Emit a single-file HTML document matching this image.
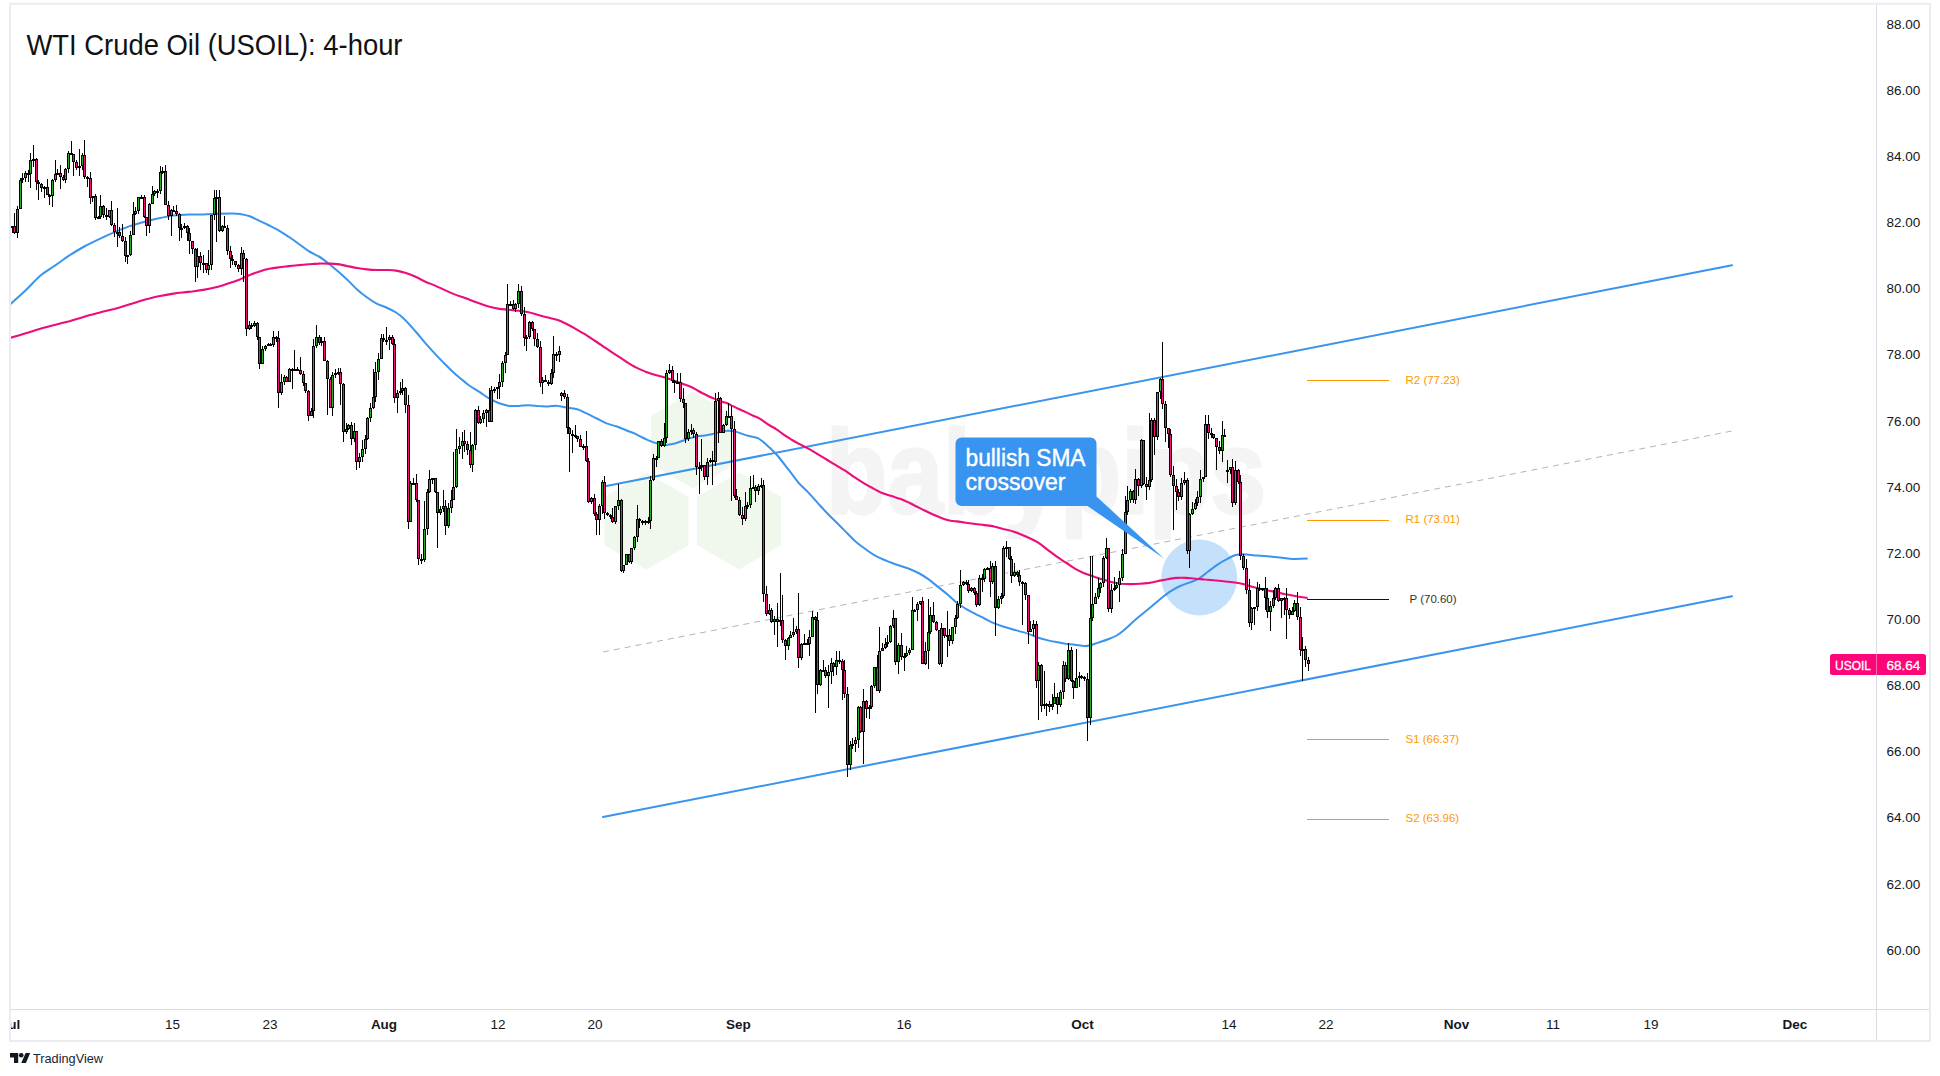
<!DOCTYPE html>
<html><head><meta charset="utf-8"><title>WTI Crude Oil (USOIL): 4-hour</title>
<style>
html,body{margin:0;padding:0;background:#fff;}
body{width:1940px;height:1076px;overflow:hidden;font-family:"Liberation Sans",sans-serif;}
svg{display:block;font-family:"Liberation Sans",sans-serif;}
</style></head><body>
<svg width="1940" height="1076" viewBox="0 0 1940 1076">
<rect width="1940" height="1076" fill="#fff"/>
<!-- frame -->
<rect x="10" y="3.8" width="1920" height="1037.2" fill="none" stroke="#ebecf2" stroke-width="2"/>
<g shape-rendering="crispEdges" fill="#dadce3">
<rect x="1876" y="5" width="1" height="1035"/>
<rect x="11" y="1009" width="1918" height="1"/>
</g>
<defs><clipPath id="taxis"><rect x="11" y="1010" width="1865" height="30"/></clipPath><clipPath id="pane"><rect x="11" y="5" width="1865" height="1004"/></clipPath></defs>
<g clip-path="url(#pane)">
<!-- watermark -->
<g fill="#f0f8ee">
<path d="M693.0 391.5L735.0 415.8L735.0 464.2L693.0 488.5L651.0 464.2L651.0 415.8z"/><path d="M646.5 472.5L688.5 496.8L688.5 545.2L646.5 569.5L604.5 545.2L604.5 496.8z"/><path d="M739.0 472.5L781.0 496.8L781.0 545.2L739.0 569.5L697.0 545.2L697.0 496.8z"/>
</g>
<text x="826" y="513" font-size="118" font-weight="bold" fill="#f4f4f4" stroke="#f4f4f4" stroke-width="3" stroke-linejoin="round" textLength="440" lengthAdjust="spacingAndGlyphs">babypips</text>
<!-- channel -->
<g stroke="#3a94ee" stroke-width="2" fill="none" stroke-linecap="round">
<line x1="605" y1="486.3" x2="1732" y2="265.3"/>
<line x1="603" y1="817" x2="1732" y2="596.3"/>
</g>
<line x1="603" y1="652" x2="1732" y2="431" stroke="#b4b4b4" stroke-width="1" stroke-dasharray="6 5"/>
<!-- circle -->
<circle cx="1199.3" cy="577.5" r="38" fill="#2b8ff0" fill-opacity="0.28"/>
<!-- SMAs -->
<path d="M10.0 304.5C12.5 302.3 19.9 295.8 24.9 291.1C29.8 286.4 34.8 280.5 39.7 276.2C44.7 272.0 49.7 269.3 54.6 265.8C59.6 262.4 64.5 258.6 69.5 255.4C74.4 252.2 79.4 249.2 84.3 246.5C89.3 243.8 94.3 241.4 99.2 239.1C104.2 236.7 109.1 234.5 114.1 232.4C119.0 230.3 124.0 228.2 129.0 226.4C133.9 224.7 138.9 223.3 143.8 222.0C148.8 220.6 155.0 219.1 158.7 218.3C162.4 217.4 163.7 217.2 166.1 216.8C168.6 216.3 169.9 215.9 173.6 215.6C177.3 215.2 183.5 214.7 188.4 214.5C193.4 214.4 198.4 214.7 203.3 214.5C208.3 214.4 213.2 214.0 218.2 213.8C223.1 213.6 229.4 213.5 233.0 213.5C236.7 213.5 237.2 213.5 240.0 214.0C242.8 214.5 246.5 215.2 249.8 216.3C253.0 217.5 256.3 219.3 259.5 220.8C262.8 222.4 266.0 223.9 269.3 225.5C272.5 227.1 275.8 228.7 279.0 230.6C282.3 232.5 285.5 234.7 288.8 236.8C292.0 239.0 295.3 241.3 298.5 243.7C301.8 246.0 305.0 248.8 308.3 250.9C311.5 252.9 315.4 254.5 318.0 256.0C320.7 257.4 322.0 258.4 323.9 259.9C325.9 261.3 327.5 262.7 329.8 264.5C332.0 266.4 334.6 268.4 337.6 271.0C340.5 273.5 344.1 276.7 347.3 279.8C350.6 282.8 353.8 286.6 357.1 289.5C360.3 292.4 363.6 295.0 366.8 297.3C370.1 299.7 373.3 301.9 376.6 303.6C379.8 305.3 383.1 306.0 386.3 307.5C389.6 309.0 393.2 310.7 396.1 312.5C399.0 314.4 400.7 315.6 403.9 318.8C407.2 321.9 412.0 327.4 415.6 331.5C419.2 335.5 422.1 339.4 425.4 343.2C428.6 346.9 431.9 350.4 435.1 353.9C438.4 357.4 441.6 360.8 444.9 364.0C448.1 367.3 451.4 370.5 454.6 373.4C457.9 376.3 461.8 379.5 464.4 381.6C467.0 383.7 467.4 384.2 470.0 386.0C472.6 387.7 476.5 390.1 479.8 392.2C483.0 394.3 486.3 396.8 489.5 398.6C492.8 400.5 496.0 402.1 499.3 403.3C502.5 404.5 505.8 405.4 509.0 405.9C512.3 406.3 515.5 406.0 518.8 405.9C522.0 405.8 525.3 405.3 528.5 405.3C531.8 405.3 535.0 405.7 538.3 405.9C541.5 406.0 544.8 406.4 548.0 406.4C551.3 406.4 554.6 405.6 557.8 405.9C561.1 406.1 564.3 407.3 567.6 407.8C570.8 408.4 574.1 408.2 577.3 409.2C580.6 410.1 583.8 412.1 587.1 413.7C590.3 415.2 593.6 416.9 596.8 418.5C600.1 420.2 603.3 422.1 606.6 423.4C609.8 424.7 613.1 425.2 616.3 426.3C619.6 427.5 622.8 428.9 626.1 430.2C629.3 431.5 632.6 432.7 635.9 434.1C639.1 435.6 642.4 437.6 645.6 439.0C648.9 440.5 652.1 442.0 655.4 442.9C658.6 443.9 661.9 444.8 665.1 444.9C668.4 445.0 671.6 444.3 674.9 443.5C678.1 442.7 682.1 440.9 684.6 440.0C687.2 439.1 688.2 438.6 690.0 438.1C691.8 437.5 693.6 437.1 695.6 436.7C697.6 436.3 699.9 436.1 702.1 435.8C704.3 435.5 706.7 435.2 708.6 434.8C710.4 434.5 711.7 434.3 713.2 433.9C714.8 433.5 716.3 433.0 717.9 432.5C719.4 432.1 721.0 431.4 722.5 431.1C724.1 430.8 725.6 430.7 727.2 430.7C728.7 430.6 730.3 430.7 731.8 430.9C733.4 431.1 734.8 431.4 736.5 431.9C738.2 432.4 740.2 433.3 742.1 433.9C743.9 434.5 745.8 435.1 747.6 435.6C749.5 436.1 751.5 436.5 753.2 436.9C754.9 437.3 756.3 437.4 757.9 438.1C759.4 438.8 761.0 440.1 762.5 441.3C764.1 442.6 765.6 444.1 767.2 445.5C768.7 446.9 770.0 448.0 771.8 449.7C773.6 451.5 774.9 452.5 777.8 456.0C780.8 459.5 785.8 466.2 789.3 470.7C792.8 475.1 795.5 479.2 798.6 482.8C801.7 486.3 804.8 488.8 807.9 492.1C811.0 495.3 814.1 498.9 817.2 502.3C820.3 505.7 823.4 509.3 826.5 512.5C829.6 515.8 832.7 518.7 835.8 521.8C838.9 524.9 842.0 528.0 845.1 531.1C848.2 534.2 851.3 537.6 854.4 540.4C857.5 543.2 860.6 545.5 863.7 547.8C866.8 550.2 869.9 552.5 873.0 554.3C876.1 556.2 879.2 557.6 882.2 559.0C885.3 560.4 888.4 561.5 891.5 562.7C894.6 563.9 897.7 565.0 900.8 566.0C903.9 567.1 907.0 568.0 910.1 569.2C913.2 570.4 916.3 571.8 919.4 573.5C922.5 575.2 925.6 577.2 928.7 579.4C931.8 581.7 934.9 584.4 938.0 586.9C941.1 589.3 944.2 591.7 947.3 594.3C950.4 596.9 953.5 600.3 956.6 602.7C959.7 605.1 962.8 606.9 965.9 608.8C969.0 610.7 972.1 612.2 975.2 613.8C978.3 615.4 981.4 616.9 984.5 618.5C987.6 620.0 990.7 621.8 993.8 623.1C996.9 624.5 999.7 625.4 1003.1 626.5C1006.5 627.6 1009.8 628.5 1014.0 629.7C1018.3 630.9 1024.6 632.6 1028.6 633.9C1032.5 635.2 1034.7 636.4 1037.8 637.5C1040.9 638.5 1044.0 639.3 1047.1 640.1C1050.2 640.9 1053.3 641.5 1056.4 642.1C1059.5 642.7 1062.6 643.2 1065.7 643.7C1068.8 644.1 1071.9 644.3 1074.9 644.7C1078.0 645.1 1081.6 645.9 1084.2 646.0C1086.8 646.1 1088.1 645.8 1090.4 645.2C1092.7 644.6 1095.3 643.5 1098.1 642.6C1101.0 641.6 1104.3 640.7 1107.4 639.5C1110.5 638.3 1113.9 637.1 1116.7 635.5C1119.5 633.8 1121.6 632.1 1124.4 629.7C1127.3 627.4 1130.6 623.9 1133.7 621.2C1136.8 618.5 1139.9 616.1 1143.0 613.5C1146.1 610.9 1149.2 608.3 1152.3 605.8C1155.4 603.2 1158.4 600.5 1161.5 598.0C1164.6 595.6 1167.7 593.1 1170.8 591.1C1173.9 589.1 1177.0 587.4 1180.1 586.0C1183.2 584.6 1186.3 583.8 1189.4 582.6C1192.5 581.4 1195.6 580.5 1198.7 578.7C1201.7 576.9 1204.8 574.1 1207.9 571.8C1211.0 569.4 1214.1 566.9 1217.2 564.8C1220.3 562.7 1223.6 560.9 1226.5 559.4C1229.3 557.8 1231.9 556.4 1234.2 555.5C1236.5 554.7 1238.3 554.5 1240.4 554.3C1242.5 554.1 1243.8 554.2 1246.6 554.4C1249.4 554.6 1253.5 555.2 1257.4 555.5C1261.3 555.9 1265.7 556.2 1269.8 556.6C1273.9 557.0 1278.3 557.4 1282.2 557.8C1286.0 558.2 1288.7 558.8 1293.0 558.9C1297.2 559.0 1305.2 558.7 1307.7 558.6" fill="none" stroke="#3a94ee" stroke-width="2" stroke-linejoin="round"/>
<path d="M10.0 338.0C12.5 337.2 19.9 335.0 24.9 333.5C29.8 332.0 34.8 330.4 39.7 329.0C44.7 327.6 49.7 326.3 54.6 325.0C59.6 323.7 64.5 322.5 69.5 321.2C74.4 319.8 79.4 318.1 84.3 316.7C89.3 315.3 94.3 314.0 99.2 312.7C104.2 311.4 109.1 310.3 114.1 309.0C119.0 307.6 124.0 306.0 129.0 304.5C133.9 303.0 138.9 301.4 143.8 300.0C148.8 298.7 153.7 297.4 158.7 296.3C163.7 295.3 168.6 294.4 173.6 293.6C178.5 292.9 183.5 292.5 188.4 291.9C193.4 291.2 198.4 290.8 203.3 289.9C208.3 289.1 213.2 288.0 218.2 286.7C223.1 285.3 229.4 283.1 233.0 281.9C236.7 280.7 237.2 280.5 240.0 279.4C242.8 278.2 246.5 276.2 249.8 274.9C253.0 273.5 256.3 272.4 259.5 271.4C262.8 270.4 266.0 269.5 269.3 268.8C272.5 268.1 275.8 267.7 279.0 267.3C282.3 266.8 285.5 266.5 288.8 266.1C292.0 265.7 295.3 265.4 298.5 265.1C301.8 264.8 305.0 264.6 308.3 264.3C311.5 264.1 314.8 263.7 318.0 263.6C321.3 263.4 324.6 263.5 327.8 263.6C331.1 263.7 334.3 263.7 337.6 264.1C340.8 264.6 344.1 265.4 347.3 266.1C350.6 266.7 353.8 267.5 357.1 268.0C360.3 268.6 363.6 269.1 366.8 269.4C370.1 269.7 373.3 269.9 376.6 270.0C379.8 270.1 383.1 269.9 386.3 270.0C389.6 270.1 392.8 270.1 396.1 270.6C399.3 271.1 402.6 271.9 405.9 272.9C409.1 274.0 412.4 275.4 415.6 276.8C418.9 278.3 422.1 280.2 425.4 281.7C428.6 283.2 431.9 284.2 435.1 285.6C438.4 287.0 441.6 288.6 444.9 290.1C448.1 291.6 451.4 293.1 454.6 294.4C457.9 295.7 461.8 296.8 464.4 297.7C467.0 298.6 467.4 299.0 470.0 299.9C472.6 300.9 476.5 302.3 479.8 303.4C483.0 304.6 486.3 305.8 489.5 306.7C492.8 307.6 496.0 308.4 499.3 308.9C502.5 309.4 505.8 309.3 509.0 309.7C512.3 310.0 515.5 310.4 518.8 310.8C522.0 311.3 525.3 311.5 528.5 312.2C531.8 312.9 535.0 314.2 538.3 315.1C541.5 316.0 544.8 316.7 548.0 317.5C551.3 318.3 554.6 318.8 557.8 320.0C561.1 321.2 564.3 322.9 567.6 324.5C570.8 326.1 574.1 327.9 577.3 329.8C580.6 331.6 583.8 333.6 587.1 335.6C590.3 337.7 593.6 339.9 596.8 342.0C600.1 344.2 603.3 346.5 606.6 348.7C609.8 350.9 613.1 353.0 616.3 355.1C619.6 357.3 622.8 359.5 626.1 361.6C629.3 363.6 632.6 365.7 635.9 367.4C639.1 369.1 642.4 370.4 645.6 371.7C648.9 373.0 652.1 374.0 655.4 375.0C658.6 376.0 661.9 376.6 665.1 377.6C668.4 378.6 671.6 379.9 674.9 381.1C678.1 382.2 682.1 383.5 684.6 384.4C687.2 385.3 688.2 385.7 690.0 386.5C691.8 387.3 693.6 388.2 695.6 389.3C697.6 390.4 699.9 391.9 702.1 393.0C704.3 394.2 706.6 395.3 708.6 396.3C710.6 397.2 712.3 397.8 714.2 398.6C716.0 399.4 717.6 400.1 719.7 400.9C721.9 401.7 725.2 402.5 727.2 403.2C729.2 404.0 730.0 404.6 731.8 405.6C733.7 406.5 736.0 407.7 738.3 408.8C740.7 409.9 743.3 410.9 745.8 412.1C748.3 413.2 751.0 414.8 753.2 415.8C755.4 416.8 756.9 417.1 758.8 418.1C760.6 419.1 762.5 420.6 764.4 421.8C766.2 423.1 767.9 424.3 769.9 425.5C772.0 426.8 774.4 427.9 776.4 429.3C778.5 430.6 780.2 432.1 782.0 433.4C783.9 434.8 785.9 436.1 787.6 437.2C789.3 438.3 790.3 438.9 792.1 440.0C793.9 441.1 796.0 442.3 798.6 443.7C801.2 445.1 804.8 446.7 807.9 448.4C811.0 450.1 814.1 452.1 817.2 453.9C820.3 455.8 823.4 457.7 826.5 459.5C829.6 461.4 832.7 463.2 835.8 465.1C838.9 467.0 842.0 468.7 845.1 470.7C848.2 472.7 851.3 475.1 854.4 477.2C857.5 479.3 860.6 481.3 863.7 483.1C866.8 485.0 869.9 486.7 873.0 488.3C876.1 490.0 879.2 491.7 882.2 493.0C885.3 494.3 888.4 495.1 891.5 496.1C894.6 497.2 897.7 497.9 900.8 499.1C903.9 500.3 907.0 501.8 910.1 503.2C913.2 504.7 916.3 506.3 919.4 507.9C922.5 509.4 925.6 511.0 928.7 512.5C931.8 514.0 934.9 515.4 938.0 516.6C941.1 517.8 944.2 519.1 947.3 519.9C950.4 520.7 953.5 521.0 956.6 521.4C959.7 521.9 962.8 522.3 965.9 522.7C969.0 523.2 972.1 523.6 975.2 524.0C978.3 524.4 981.4 524.7 984.5 525.1C987.6 525.5 990.7 525.8 993.8 526.4C996.9 527.1 999.7 528.0 1003.1 528.9C1006.5 529.7 1009.8 530.2 1014.0 531.7C1018.3 533.2 1024.6 536.0 1028.6 537.7C1032.5 539.5 1034.7 540.4 1037.8 542.4C1040.9 544.3 1044.0 547.0 1047.1 549.3C1050.2 551.6 1053.3 554.1 1056.4 556.3C1059.5 558.5 1062.6 560.4 1065.7 562.5C1068.8 564.5 1071.9 566.9 1074.9 568.7C1078.0 570.5 1081.1 572.0 1084.2 573.3C1087.3 574.6 1090.4 575.4 1093.5 576.4C1096.6 577.4 1099.7 578.5 1102.8 579.5C1105.9 580.5 1109.0 581.6 1112.1 582.3C1115.1 583.0 1118.2 583.3 1121.3 583.7C1124.4 584.0 1127.5 584.1 1130.6 584.1C1133.7 584.1 1136.8 584.0 1139.9 583.8C1143.0 583.6 1146.1 583.3 1149.2 582.9C1152.3 582.4 1155.4 581.6 1158.4 581.0C1161.5 580.4 1164.6 579.7 1167.7 579.2C1170.8 578.7 1173.9 578.1 1177.0 577.9C1180.1 577.7 1183.2 577.8 1186.3 577.9C1189.4 578.1 1192.5 578.5 1195.6 578.7C1198.7 579.0 1201.7 579.2 1204.8 579.5C1207.9 579.7 1211.0 579.9 1214.1 580.3C1217.2 580.6 1220.3 581.0 1223.4 581.3C1226.5 581.7 1229.6 581.9 1232.7 582.3C1235.8 582.7 1238.9 583.1 1241.9 583.8C1245.0 584.5 1248.1 585.6 1251.2 586.4C1254.3 587.3 1256.9 587.9 1260.5 588.8C1264.1 589.6 1268.7 590.6 1272.9 591.5C1277.0 592.4 1281.1 593.3 1285.2 594.2C1289.4 595.0 1293.9 595.8 1297.6 596.5C1301.4 597.1 1306.0 597.8 1307.7 598.0" fill="none" stroke="#ec0d78" stroke-width="2.1" stroke-linejoin="round"/>
<g shape-rendering="crispEdges"><path fill="#000" d="M12 226h1V233h-1zM14 213h1V234h-1zM17 206h1V238h-1zM20 178h1V209h-1zM22 173h1V183h-1zM25 171h1V182h-1zM28 170h1V182h-1zM30 153h1V188h-1zM33 145h1V167h-1zM36 158h1V190h-1zM38 180h1V200h-1zM41 183h1V192h-1zM44 186h1V198h-1zM47 179h1V195h-1zM49 194h1V205h-1zM52 179h1V207h-1zM55 160h1V182h-1zM57 169h1V174h-1zM60 165h1V189h-1zM63 175h1V181h-1zM65 168h1V183h-1zM68 151h1V173h-1zM71 141h1V155h-1zM73 154h1V176h-1zM76 160h1V170h-1zM79 149h1V176h-1zM82 153h1V170h-1zM84 140h1V179h-1zM87 176h1V187h-1zM90 172h1V204h-1zM92 196h1V202h-1zM95 194h1V220h-1zM98 216h1V219h-1zM100 195h1V219h-1zM103 205h1V218h-1zM106 208h1V220h-1zM109 210h1V218h-1zM111 201h1V226h-1zM114 223h1V237h-1zM117 208h1V247h-1zM119 227h1V238h-1zM122 224h1V242h-1zM125 237h1V262h-1zM127 255h1V264h-1zM130 231h1V256h-1zM133 202h1V235h-1zM135 207h1V215h-1zM138 197h1V214h-1zM141 195h1V198h-1zM144 195h1V218h-1zM146 217h1V236h-1zM149 203h1V233h-1zM152 186h1V204h-1zM154 190h1V196h-1zM157 189h1V198h-1zM160 166h1V194h-1zM162 167h1V174h-1zM165 165h1V205h-1zM168 201h1V220h-1zM171 209h1V236h-1zM173 206h1V212h-1zM176 205h1V216h-1zM179 213h1V241h-1zM181 224h1V238h-1zM184 223h1V229h-1zM187 225h1V241h-1zM189 228h1V254h-1zM192 241h1V254h-1zM195 248h1V282h-1zM197 248h1V278h-1zM200 252h1V270h-1zM203 255h1V273h-1zM206 263h1V273h-1zM208 250h1V275h-1zM211 215h1V270h-1zM214 190h1V220h-1zM216 190h1V242h-1zM219 190h1V232h-1zM222 225h1V232h-1zM224 216h1V228h-1zM227 225h1V255h-1zM230 246h1V268h-1zM232 255h1V265h-1zM235 261h1V267h-1zM238 264h1V272h-1zM241 247h1V275h-1zM243 250h1V282h-1zM246 258h1V336h-1zM249 321h1V330h-1zM251 323h1V329h-1zM254 321h1V327h-1zM257 322h1V340h-1zM259 337h1V369h-1zM262 346h1V364h-1zM265 345h1V351h-1zM268 343h1V346h-1zM270 343h1V346h-1zM273 331h1V347h-1zM276 336h1V342h-1zM278 331h1V408h-1zM281 374h1V395h-1zM284 375h1V385h-1zM286 376h1V382h-1zM289 368h1V382h-1zM292 368h1V389h-1zM294 350h1V370h-1zM297 367h1V370h-1zM300 357h1V375h-1zM303 371h1V386h-1zM305 383h1V393h-1zM308 390h1V421h-1zM311 408h1V416h-1zM313 339h1V418h-1zM316 325h1V348h-1zM319 335h1V345h-1zM321 337h1V346h-1zM324 337h1V361h-1zM327 360h1V415h-1zM330 377h1V408h-1zM332 372h1V416h-1zM335 369h1V378h-1zM338 368h1V375h-1zM340 368h1V405h-1zM343 383h1V442h-1zM346 423h1V434h-1zM348 424h1V430h-1zM351 422h1V445h-1zM354 423h1V442h-1zM356 431h1V470h-1zM359 453h1V468h-1zM362 440h1V462h-1zM365 435h1V454h-1zM367 417h1V440h-1zM370 403h1V422h-1zM373 369h1V409h-1zM375 362h1V402h-1zM378 353h1V380h-1zM381 334h1V359h-1zM383 334h1V342h-1zM386 327h1V345h-1zM389 335h1V350h-1zM392 335h1V345h-1zM394 339h1V403h-1zM397 390h1V413h-1zM400 382h1V395h-1zM402 379h1V395h-1zM405 387h1V413h-1zM408 395h1V529h-1zM410 481h1V522h-1zM413 478h1V484h-1zM416 474h1V502h-1zM418 500h1V565h-1zM421 554h1V564h-1zM424 501h1V562h-1zM427 489h1V535h-1zM429 470h1V493h-1zM432 478h1V484h-1zM435 478h1V493h-1zM437 492h1V548h-1zM440 506h1V515h-1zM443 490h1V512h-1zM445 500h1V535h-1zM448 503h1V528h-1zM451 490h1V513h-1zM453 452h1V500h-1zM456 429h1V488h-1zM459 437h1V454h-1zM462 432h1V459h-1zM464 430h1V452h-1zM467 441h1V455h-1zM470 432h1V468h-1zM472 444h1V472h-1zM475 409h1V450h-1zM478 406h1V424h-1zM480 416h1V424h-1zM483 410h1V423h-1zM486 409h1V427h-1zM489 388h1V422h-1zM491 386h1V422h-1zM494 387h1V393h-1zM497 387h1V399h-1zM499 374h1V399h-1zM502 361h1V387h-1zM505 352h1V373h-1zM507 284h1V355h-1zM510 301h1V304h-1zM513 300h1V310h-1zM515 303h1V312h-1zM518 284h1V308h-1zM521 286h1V316h-1zM524 307h1V346h-1zM526 335h1V351h-1zM529 321h1V339h-1zM532 321h1V331h-1zM534 329h1V346h-1zM537 333h1V348h-1zM540 341h1V387h-1zM542 377h1V394h-1zM545 375h1V382h-1zM548 380h1V386h-1zM551 369h1V385h-1zM553 336h1V378h-1zM556 352h1V361h-1zM559 346h1V362h-1zM561 392h1V401h-1zM564 390h1V399h-1zM567 394h1V434h-1zM569 427h1V472h-1zM572 430h1V453h-1zM575 425h1V438h-1zM577 436h1V442h-1zM580 435h1V447h-1zM583 444h1V450h-1zM586 431h1V462h-1zM588 458h1V503h-1zM591 497h1V504h-1zM594 494h1V516h-1zM596 512h1V535h-1zM599 504h1V535h-1zM602 480h1V514h-1zM604 476h1V519h-1zM607 512h1V516h-1zM610 514h1V519h-1zM612 508h1V523h-1zM615 506h1V524h-1zM618 484h1V510h-1zM621 499h1V572h-1zM623 565h1V573h-1zM626 554h1V565h-1zM629 554h1V563h-1zM631 548h1V564h-1zM634 536h1V550h-1zM637 505h1V542h-1zM639 518h1V528h-1zM642 520h1V525h-1zM645 520h1V525h-1zM648 517h1V524h-1zM650 476h1V529h-1zM653 454h1V481h-1zM656 456h1V467h-1zM658 441h1V458h-1zM661 439h1V447h-1zM664 423h1V447h-1zM666 370h1V443h-1zM669 364h1V374h-1zM672 366h1V383h-1zM674 380h1V393h-1zM677 373h1V382h-1zM680 373h1V402h-1zM683 388h1V408h-1zM685 403h1V443h-1zM688 429h1V441h-1zM691 424h1V435h-1zM693 428h1V438h-1zM696 432h1V475h-1zM699 462h1V494h-1zM701 439h1V471h-1zM704 465h1V480h-1zM707 458h1V485h-1zM710 458h1V463h-1zM712 451h1V485h-1zM715 393h1V466h-1zM718 392h1V443h-1zM720 397h1V433h-1zM723 424h1V433h-1zM726 411h1V426h-1zM728 403h1V417h-1zM731 406h1V501h-1zM734 421h1V498h-1zM736 489h1V500h-1zM739 497h1V516h-1zM742 507h1V525h-1zM745 492h1V521h-1zM747 502h1V509h-1zM750 476h1V508h-1zM753 475h1V489h-1zM755 485h1V502h-1zM758 484h1V495h-1zM761 478h1V488h-1zM763 480h1V602h-1zM766 586h1V616h-1zM769 604h1V615h-1zM771 608h1V623h-1zM774 616h1V635h-1zM777 603h1V647h-1zM780 573h1V626h-1zM782 595h1V643h-1zM785 639h1V660h-1zM788 637h1V650h-1zM790 631h1V638h-1zM793 618h1V637h-1zM796 626h1V634h-1zM798 593h1V668h-1zM801 643h1V660h-1zM804 634h1V644h-1zM807 639h1V644h-1zM809 630h1V656h-1zM812 611h1V637h-1zM815 616h1V713h-1zM817 612h1V694h-1zM820 669h1V686h-1zM823 660h1V672h-1zM825 667h1V678h-1zM828 665h1V708h-1zM831 658h1V684h-1zM833 662h1V676h-1zM836 651h1V675h-1zM839 651h1V664h-1zM842 659h1V700h-1zM844 660h1V698h-1zM847 687h1V777h-1zM850 741h1V770h-1zM852 738h1V749h-1zM855 737h1V752h-1zM858 706h1V748h-1zM860 706h1V733h-1zM863 689h1V764h-1zM866 700h1V718h-1zM869 705h1V719h-1zM871 685h1V709h-1zM874 667h1V688h-1zM877 655h1V691h-1zM879 627h1V693h-1zM882 643h1V651h-1zM885 638h1V649h-1zM887 635h1V647h-1zM890 625h1V643h-1zM893 610h1V628h-1zM895 618h1V665h-1zM898 643h1V674h-1zM901 633h1V660h-1zM904 653h1V671h-1zM906 646h1V657h-1zM909 648h1V655h-1zM912 597h1V650h-1zM914 609h1V611h-1zM917 602h1V621h-1zM920 601h1V605h-1zM922 597h1V664h-1zM925 642h1V665h-1zM928 599h1V669h-1zM930 607h1V634h-1zM933 602h1V623h-1zM936 621h1V631h-1zM939 630h1V665h-1zM941 623h1V667h-1zM944 628h1V638h-1zM947 611h1V657h-1zM949 629h1V646h-1zM952 627h1V644h-1zM955 615h1V634h-1zM957 601h1V619h-1zM960 570h1V608h-1zM963 581h1V586h-1zM966 580h1V585h-1zM968 580h1V593h-1zM971 587h1V592h-1zM974 587h1V595h-1zM976 591h1V607h-1zM979 575h1V606h-1zM982 574h1V592h-1zM984 568h1V582h-1zM987 567h1V570h-1zM990 561h1V597h-1zM992 563h1V584h-1zM995 561h1V636h-1zM998 596h1V609h-1zM1001 593h1V604h-1zM1003 546h1V598h-1zM1006 541h1V557h-1zM1009 547h1V560h-1zM1011 556h1V583h-1zM1014 563h1V577h-1zM1017 571h1V577h-1zM1019 570h1V586h-1zM1022 581h1V625h-1zM1025 582h1V600h-1zM1028 595h1V644h-1zM1030 621h1V632h-1zM1033 620h1V636h-1zM1036 621h1V688h-1zM1038 662h1V720h-1zM1041 664h1V712h-1zM1044 671h1V709h-1zM1046 703h1V716h-1zM1049 701h1V712h-1zM1052 694h1V710h-1zM1054 683h1V704h-1zM1057 693h1V714h-1zM1060 690h1V707h-1zM1063 661h1V699h-1zM1065 662h1V682h-1zM1068 643h1V680h-1zM1071 647h1V682h-1zM1073 680h1V699h-1zM1076 649h1V688h-1zM1079 672h1V687h-1zM1081 675h1V679h-1zM1084 676h1V681h-1zM1087 673h1V741h-1zM1090 556h1V725h-1zM1092 556h1V621h-1zM1095 593h1V604h-1zM1098 578h1V599h-1zM1100 582h1V593h-1zM1103 556h1V587h-1zM1106 538h1V559h-1zM1108 548h1V612h-1zM1111 584h1V613h-1zM1114 577h1V591h-1zM1116 582h1V589h-1zM1119 571h1V602h-1zM1122 549h1V581h-1zM1125 496h1V554h-1zM1127 486h1V515h-1zM1130 489h1V503h-1zM1133 490h1V503h-1zM1135 469h1V504h-1zM1138 478h1V496h-1zM1141 439h1V488h-1zM1143 440h1V485h-1zM1146 477h1V500h-1zM1149 413h1V490h-1zM1151 418h1V482h-1zM1154 418h1V455h-1zM1157 392h1V440h-1zM1160 378h1V399h-1zM1162 342h1V409h-1zM1165 401h1V442h-1zM1168 428h1V448h-1zM1170 429h1V477h-1zM1173 466h1V530h-1zM1176 479h1V510h-1zM1178 489h1V501h-1zM1181 478h1V500h-1zM1184 472h1V485h-1zM1187 478h1V554h-1zM1189 513h1V568h-1zM1192 502h1V515h-1zM1195 499h1V510h-1zM1197 491h1V506h-1zM1200 470h1V503h-1zM1203 477h1V482h-1zM1205 415h1V477h-1zM1208 415h1V439h-1zM1211 428h1V438h-1zM1213 434h1V439h-1zM1216 438h1V470h-1zM1219 441h1V454h-1zM1222 421h1V462h-1zM1224 429h1V437h-1zM1227 460h1V483h-1zM1230 467h1V474h-1zM1232 459h1V507h-1zM1235 461h1V505h-1zM1238 469h1V484h-1zM1240 475h1V560h-1zM1243 554h1V570h-1zM1246 559h1V594h-1zM1249 579h1V627h-1zM1251 607h1V630h-1zM1254 607h1V625h-1zM1257 582h1V611h-1zM1259 584h1V591h-1zM1262 588h1V591h-1zM1265 577h1V610h-1zM1267 588h1V618h-1zM1270 601h1V631h-1zM1273 590h1V608h-1zM1275 587h1V600h-1zM1278 584h1V602h-1zM1281 598h1V618h-1zM1284 597h1V615h-1zM1286 588h1V639h-1zM1289 608h1V619h-1zM1292 607h1V615h-1zM1294 600h1V612h-1zM1297 592h1V620h-1zM1300 607h1V656h-1zM1302 637h1V681h-1zM1305 646h1V667h-1zM1308 657h1V671h-1z"/><path fill="#000" d="M11 226h3V228h-3zM13 226h3V233h-3zM16 209h3V233h-3zM19 180h3V209h-3zM21 178h3V180h-3zM24 173h3V178h-3zM27 173h3V175h-3zM29 160h3V174h-3zM32 159h3V161h-3zM35 159h3V182h-3zM37 182h3V184h-3zM40 184h3V188h-3zM43 187h3V189h-3zM46 187h3V195h-3zM48 195h3V197h-3zM51 180h3V196h-3zM54 174h3V180h-3zM56 173h3V175h-3zM59 173h3V177h-3zM62 177h3V180h-3zM64 169h3V180h-3zM67 153h3V169h-3zM70 153h3V155h-3zM72 154h3V162h-3zM75 162h3V168h-3zM78 166h3V168h-3zM81 155h3V166h-3zM83 155h3V177h-3zM86 177h3V179h-3zM89 178h3V198h-3zM91 196h3V198h-3zM94 196h3V218h-3zM97 217h3V219h-3zM99 206h3V217h-3zM102 206h3V215h-3zM105 215h3V217h-3zM108 210h3V217h-3zM110 210h3V225h-3zM113 225h3V232h-3zM116 232h3V234h-3zM118 232h3V236h-3zM121 236h3V241h-3zM124 241h3V256h-3zM126 255h3V257h-3zM129 235h3V255h-3zM132 214h3V235h-3zM134 211h3V214h-3zM137 197h3V211h-3zM140 197h3V199h-3zM143 197h3V217h-3zM145 217h3V226h-3zM148 204h3V226h-3zM151 194h3V204h-3zM153 191h3V194h-3zM156 191h3V193h-3zM159 172h3V191h-3zM161 171h3V173h-3zM164 171h3V205h-3zM167 205h3V216h-3zM170 210h3V216h-3zM172 210h3V212h-3zM175 211h3V214h-3zM178 214h3V228h-3zM180 228h3V230h-3zM183 226h3V228h-3zM186 226h3V233h-3zM188 233h3V241h-3zM191 241h3V249h-3zM194 249h3V267h-3zM196 256h3V267h-3zM199 256h3V263h-3zM202 263h3V265h-3zM205 263h3V270h-3zM207 265h3V270h-3zM210 215h3V265h-3zM213 198h3V215h-3zM215 197h3V199h-3zM218 197h3V231h-3zM221 226h3V231h-3zM223 226h3V228h-3zM226 228h3V251h-3zM229 251h3V259h-3zM231 259h3V261h-3zM234 261h3V265h-3zM237 265h3V269h-3zM240 253h3V269h-3zM242 253h3V259h-3zM245 259h3V329h-3zM248 325h3V329h-3zM250 325h3V327h-3zM253 323h3V326h-3zM256 323h3V337h-3zM258 337h3V364h-3zM261 349h3V364h-3zM264 346h3V349h-3zM267 344h3V346h-3zM269 344h3V346h-3zM272 337h3V345h-3zM275 337h3V339h-3zM277 338h3V393h-3zM280 382h3V393h-3zM283 377h3V382h-3zM285 377h3V382h-3zM288 369h3V382h-3zM291 369h3V371h-3zM293 369h3V371h-3zM296 369h3V371h-3zM299 370h3V374h-3zM302 374h3V383h-3zM304 383h3V391h-3zM307 391h3V416h-3zM310 411h3V416h-3zM312 346h3V411h-3zM315 337h3V346h-3zM318 337h3V343h-3zM320 341h3V343h-3zM323 341h3V361h-3zM326 361h3V379h-3zM329 379h3V408h-3zM331 375h3V408h-3zM334 373h3V375h-3zM337 372h3V374h-3zM339 372h3V384h-3zM342 384h3V432h-3zM345 429h3V432h-3zM347 425h3V429h-3zM350 425h3V439h-3zM353 431h3V439h-3zM355 431h3V462h-3zM358 457h3V462h-3zM361 449h3V457h-3zM364 439h3V449h-3zM366 418h3V439h-3zM369 408h3V418h-3zM372 397h3V408h-3zM374 372h3V397h-3zM377 359h3V372h-3zM380 338h3V359h-3zM382 338h3V340h-3zM385 340h3V342h-3zM388 337h3V340h-3zM391 337h3V344h-3zM393 344h3V398h-3zM396 393h3V398h-3zM399 391h3V393h-3zM401 388h3V391h-3zM404 388h3V405h-3zM407 405h3V522h-3zM409 483h3V522h-3zM412 483h3V485h-3zM415 483h3V500h-3zM417 500h3V559h-3zM420 559h3V561h-3zM423 529h3V560h-3zM426 492h3V529h-3zM428 479h3V492h-3zM431 478h3V480h-3zM434 478h3V492h-3zM436 492h3V513h-3zM439 509h3V513h-3zM442 506h3V509h-3zM444 506h3V526h-3zM447 508h3V526h-3zM450 500h3V508h-3zM452 487h3V500h-3zM455 449h3V487h-3zM458 446h3V449h-3zM461 441h3V446h-3zM463 441h3V444h-3zM466 444h3V450h-3zM469 450h3V465h-3zM471 445h3V465h-3zM474 410h3V445h-3zM477 410h3V423h-3zM479 419h3V423h-3zM482 413h3V419h-3zM485 410h3V413h-3zM488 410h3V422h-3zM490 390h3V422h-3zM493 389h3V391h-3zM496 387h3V389h-3zM498 382h3V387h-3zM501 363h3V382h-3zM504 355h3V363h-3zM506 304h3V355h-3zM509 304h3V306h-3zM512 304h3V309h-3zM514 304h3V309h-3zM517 291h3V304h-3zM520 291h3V314h-3zM523 314h3V338h-3zM525 337h3V339h-3zM528 322h3V337h-3zM531 322h3V329h-3zM533 329h3V339h-3zM536 339h3V347h-3zM539 347h3V383h-3zM541 380h3V383h-3zM544 380h3V382h-3zM547 382h3V384h-3zM550 373h3V384h-3zM552 354h3V373h-3zM555 354h3V356h-3zM558 351h3V355h-3zM560 393h3V396h-3zM563 393h3V397h-3zM566 397h3V428h-3zM568 428h3V434h-3zM571 434h3V436h-3zM574 435h3V437h-3zM576 436h3V439h-3zM579 439h3V447h-3zM582 446h3V448h-3zM585 446h3V461h-3zM587 461h3V502h-3zM590 498h3V502h-3zM593 498h3V514h-3zM595 514h3V520h-3zM598 506h3V520h-3zM601 482h3V506h-3zM603 482h3V513h-3zM606 513h3V515h-3zM609 515h3V517h-3zM611 517h3V522h-3zM614 506h3V522h-3zM617 500h3V506h-3zM620 500h3V571h-3zM622 565h3V571h-3zM625 554h3V565h-3zM628 554h3V562h-3zM630 548h3V562h-3zM633 537h3V548h-3zM636 519h3V537h-3zM638 519h3V521h-3zM641 521h3V523h-3zM644 521h3V523h-3zM647 521h3V523h-3zM649 480h3V521h-3zM652 458h3V480h-3zM655 458h3V460h-3zM657 441h3V458h-3zM660 441h3V446h-3zM663 438h3V446h-3zM665 373h3V438h-3zM668 370h3V373h-3zM671 370h3V381h-3zM673 381h3V383h-3zM676 382h3V384h-3zM679 382h3V399h-3zM682 399h3V403h-3zM684 403h3V439h-3zM687 432h3V439h-3zM690 430h3V432h-3zM692 430h3V434h-3zM695 434h3V467h-3zM698 467h3V469h-3zM700 465h3V467h-3zM703 465h3V477h-3zM706 462h3V477h-3zM709 460h3V462h-3zM711 460h3V462h-3zM714 401h3V462h-3zM717 398h3V401h-3zM719 398h3V433h-3zM722 425h3V433h-3zM725 416h3V425h-3zM727 416h3V418h-3zM730 416h3V429h-3zM733 429h3V496h-3zM735 496h3V500h-3zM738 500h3V515h-3zM741 515h3V519h-3zM744 506h3V519h-3zM746 505h3V507h-3zM749 488h3V505h-3zM752 487h3V489h-3zM754 487h3V491h-3zM757 486h3V491h-3zM760 485h3V487h-3zM762 485h3V594h-3zM765 594h3V614h-3zM768 610h3V614h-3zM770 610h3V622h-3zM773 619h3V622h-3zM776 619h3V622h-3zM779 620h3V622h-3zM781 620h3V640h-3zM784 640h3V646h-3zM787 638h3V646h-3zM789 635h3V638h-3zM792 632h3V635h-3zM795 629h3V632h-3zM797 629h3V658h-3zM800 644h3V658h-3zM803 643h3V645h-3zM806 643h3V645h-3zM808 637h3V644h-3zM811 617h3V637h-3zM814 617h3V620h-3zM816 620h3V685h-3zM819 670h3V685h-3zM822 670h3V672h-3zM824 670h3V676h-3zM827 672h3V676h-3zM830 663h3V672h-3zM832 663h3V667h-3zM835 660h3V667h-3zM838 660h3V662h-3zM841 661h3V670h-3zM843 670h3V694h-3zM846 694h3V765h-3zM849 745h3V765h-3zM851 744h3V746h-3zM854 740h3V744h-3zM857 707h3V740h-3zM859 707h3V732h-3zM862 701h3V732h-3zM865 701h3V709h-3zM868 707h3V709h-3zM870 686h3V707h-3zM873 667h3V686h-3zM876 667h3V691h-3zM878 651h3V691h-3zM881 648h3V651h-3zM884 644h3V648h-3zM886 642h3V644h-3zM889 626h3V642h-3zM892 618h3V626h-3zM894 618h3V662h-3zM897 645h3V662h-3zM900 645h3V657h-3zM903 656h3V658h-3zM905 653h3V656h-3zM908 650h3V653h-3zM911 610h3V650h-3zM913 610h3V612h-3zM916 604h3V610h-3zM919 601h3V604h-3zM921 601h3V664h-3zM924 651h3V664h-3zM927 632h3V651h-3zM929 615h3V632h-3zM932 615h3V622h-3zM935 622h3V630h-3zM938 630h3V664h-3zM940 628h3V664h-3zM943 628h3V636h-3zM946 635h3V637h-3zM948 635h3V641h-3zM951 627h3V641h-3zM954 618h3V627h-3zM956 604h3V618h-3zM959 585h3V604h-3zM962 582h3V585h-3zM965 582h3V584h-3zM967 584h3V591h-3zM970 588h3V591h-3zM973 588h3V593h-3zM975 593h3V605h-3zM978 578h3V605h-3zM981 578h3V580h-3zM983 569h3V579h-3zM986 568h3V570h-3zM989 568h3V582h-3zM991 566h3V582h-3zM994 566h3V608h-3zM997 599h3V608h-3zM1000 596h3V599h-3zM1002 548h3V596h-3zM1005 547h3V549h-3zM1008 547h3V559h-3zM1010 559h3V576h-3zM1013 572h3V576h-3zM1016 572h3V575h-3zM1018 575h3V582h-3zM1021 582h3V584h-3zM1024 583h3V595h-3zM1027 595h3V632h-3zM1029 629h3V632h-3zM1032 624h3V629h-3zM1035 624h3V681h-3zM1037 665h3V681h-3zM1040 665h3V706h-3zM1043 704h3V706h-3zM1045 704h3V706h-3zM1048 704h3V707h-3zM1051 704h3V707h-3zM1053 697h3V704h-3zM1056 697h3V705h-3zM1059 692h3V705h-3zM1062 665h3V692h-3zM1064 665h3V679h-3zM1067 650h3V679h-3zM1070 650h3V681h-3zM1072 681h3V688h-3zM1075 678h3V688h-3zM1078 676h3V678h-3zM1080 676h3V678h-3zM1083 677h3V679h-3zM1086 679h3V718h-3zM1089 618h3V718h-3zM1091 604h3V618h-3zM1094 597h3V604h-3zM1097 588h3V597h-3zM1099 583h3V588h-3zM1102 558h3V583h-3zM1105 548h3V558h-3zM1107 548h3V609h-3zM1110 590h3V609h-3zM1113 588h3V590h-3zM1115 585h3V588h-3zM1118 578h3V585h-3zM1121 554h3V578h-3zM1124 512h3V554h-3zM1126 500h3V512h-3zM1129 491h3V500h-3zM1132 491h3V500h-3zM1134 479h3V500h-3zM1137 479h3V486h-3zM1140 440h3V486h-3zM1142 440h3V484h-3zM1145 484h3V487h-3zM1148 480h3V487h-3zM1150 420h3V480h-3zM1153 420h3V437h-3zM1156 392h3V437h-3zM1159 379h3V392h-3zM1161 379h3V404h-3zM1164 404h3V428h-3zM1167 428h3V434h-3zM1169 434h3V475h-3zM1172 475h3V486h-3zM1175 486h3V492h-3zM1177 492h3V497h-3zM1180 483h3V497h-3zM1183 480h3V483h-3zM1186 480h3V551h-3zM1188 514h3V551h-3zM1191 509h3V514h-3zM1194 503h3V509h-3zM1196 497h3V503h-3zM1199 479h3V497h-3zM1202 477h3V479h-3zM1204 424h3V477h-3zM1207 424h3V433h-3zM1210 433h3V435h-3zM1212 434h3V438h-3zM1215 438h3V447h-3zM1218 447h3V451h-3zM1221 435h3V451h-3zM1223 435h3V437h-3zM1226 470h3V472h-3zM1229 467h3V470h-3zM1231 467h3V503h-3zM1234 470h3V503h-3zM1237 470h3V482h-3zM1239 482h3V556h-3zM1242 556h3V568h-3zM1245 568h3V590h-3zM1248 590h3V623h-3zM1250 608h3V623h-3zM1253 607h3V609h-3zM1256 588h3V607h-3zM1258 588h3V590h-3zM1261 588h3V590h-3zM1264 588h3V598h-3zM1266 598h3V612h-3zM1269 606h3V612h-3zM1272 598h3V606h-3zM1274 588h3V598h-3zM1277 588h3V601h-3zM1280 598h3V601h-3zM1283 598h3V600h-3zM1285 598h3V610h-3zM1288 610h3V615h-3zM1291 611h3V615h-3zM1293 603h3V611h-3zM1296 603h3V617h-3zM1299 617h3V650h-3zM1301 649h3V651h-3zM1304 649h3V660h-3zM1307 660h3V664h-3z"/><path fill="#22b022" d="M17 210h1V232h-1zM20 181h1V208h-1zM25 174h1V177h-1zM30 161h1V173h-1zM52 181h1V195h-1zM55 175h1V179h-1zM65 170h1V179h-1zM68 154h1V168h-1zM82 156h1V165h-1zM100 207h1V216h-1zM109 211h1V216h-1zM130 236h1V254h-1zM133 215h1V234h-1zM135 212h1V213h-1zM138 198h1V210h-1zM149 205h1V225h-1zM152 195h1V203h-1zM154 192h1V193h-1zM160 173h1V190h-1zM171 211h1V215h-1zM197 257h1V266h-1zM208 266h1V269h-1zM211 216h1V264h-1zM214 199h1V214h-1zM222 227h1V230h-1zM241 254h1V268h-1zM249 326h1V328h-1zM254 324h1V325h-1zM262 350h1V363h-1zM265 347h1V348h-1zM273 338h1V344h-1zM281 383h1V392h-1zM284 378h1V381h-1zM289 370h1V381h-1zM311 412h1V415h-1zM313 347h1V410h-1zM316 338h1V345h-1zM332 376h1V407h-1zM346 430h1V431h-1zM348 426h1V428h-1zM354 432h1V438h-1zM359 458h1V461h-1zM362 450h1V456h-1zM365 440h1V448h-1zM367 419h1V438h-1zM370 409h1V417h-1zM373 398h1V407h-1zM375 373h1V396h-1zM378 360h1V371h-1zM381 339h1V358h-1zM389 338h1V339h-1zM397 394h1V397h-1zM402 389h1V390h-1zM410 484h1V521h-1zM424 530h1V559h-1zM427 493h1V528h-1zM429 480h1V491h-1zM440 510h1V512h-1zM443 507h1V508h-1zM448 509h1V525h-1zM451 501h1V507h-1zM453 488h1V499h-1zM456 450h1V486h-1zM459 447h1V448h-1zM462 442h1V445h-1zM472 446h1V464h-1zM475 411h1V444h-1zM480 420h1V422h-1zM483 414h1V418h-1zM486 411h1V412h-1zM491 391h1V421h-1zM499 383h1V386h-1zM502 364h1V381h-1zM505 356h1V362h-1zM507 305h1V354h-1zM515 305h1V308h-1zM518 292h1V303h-1zM529 323h1V336h-1zM542 381h1V382h-1zM551 374h1V383h-1zM553 355h1V372h-1zM559 352h1V354h-1zM561 394h1V395h-1zM591 499h1V501h-1zM599 507h1V519h-1zM602 483h1V505h-1zM615 507h1V521h-1zM618 501h1V505h-1zM623 566h1V570h-1zM626 555h1V564h-1zM631 549h1V561h-1zM634 538h1V547h-1zM637 520h1V536h-1zM650 481h1V520h-1zM653 459h1V479h-1zM658 442h1V457h-1zM664 439h1V445h-1zM666 374h1V437h-1zM669 371h1V372h-1zM688 433h1V438h-1zM707 463h1V476h-1zM715 402h1V461h-1zM718 399h1V400h-1zM723 426h1V432h-1zM726 417h1V424h-1zM745 507h1V518h-1zM750 489h1V504h-1zM758 487h1V490h-1zM769 611h1V613h-1zM774 620h1V621h-1zM788 639h1V645h-1zM790 636h1V637h-1zM793 633h1V634h-1zM796 630h1V631h-1zM801 645h1V657h-1zM809 638h1V643h-1zM812 618h1V636h-1zM820 671h1V684h-1zM828 673h1V675h-1zM831 664h1V671h-1zM836 661h1V666h-1zM850 746h1V764h-1zM855 741h1V743h-1zM858 708h1V739h-1zM863 702h1V731h-1zM871 687h1V706h-1zM874 668h1V685h-1zM879 652h1V690h-1zM882 649h1V650h-1zM885 645h1V647h-1zM890 627h1V641h-1zM893 619h1V625h-1zM898 646h1V661h-1zM906 654h1V655h-1zM909 651h1V652h-1zM912 611h1V649h-1zM917 605h1V609h-1zM920 602h1V603h-1zM925 652h1V663h-1zM928 633h1V650h-1zM930 616h1V631h-1zM941 629h1V663h-1zM952 628h1V640h-1zM955 619h1V626h-1zM957 605h1V617h-1zM960 586h1V603h-1zM963 583h1V584h-1zM971 589h1V590h-1zM979 579h1V604h-1zM984 570h1V578h-1zM992 567h1V581h-1zM998 600h1V607h-1zM1001 597h1V598h-1zM1003 549h1V595h-1zM1014 573h1V575h-1zM1030 630h1V631h-1zM1033 625h1V628h-1zM1038 666h1V680h-1zM1052 705h1V706h-1zM1054 698h1V703h-1zM1060 693h1V704h-1zM1063 666h1V691h-1zM1068 651h1V678h-1zM1076 679h1V687h-1zM1090 619h1V717h-1zM1092 605h1V617h-1zM1095 598h1V603h-1zM1098 589h1V596h-1zM1100 584h1V587h-1zM1103 559h1V582h-1zM1106 549h1V557h-1zM1111 591h1V608h-1zM1116 586h1V587h-1zM1119 579h1V584h-1zM1122 555h1V577h-1zM1125 513h1V553h-1zM1127 501h1V511h-1zM1130 492h1V499h-1zM1135 480h1V499h-1zM1141 441h1V485h-1zM1149 481h1V486h-1zM1151 421h1V479h-1zM1157 393h1V436h-1zM1160 380h1V391h-1zM1181 484h1V496h-1zM1184 481h1V482h-1zM1189 515h1V550h-1zM1192 510h1V513h-1zM1195 504h1V508h-1zM1197 498h1V502h-1zM1200 480h1V496h-1zM1205 425h1V476h-1zM1222 436h1V450h-1zM1230 468h1V469h-1zM1235 471h1V502h-1zM1251 609h1V622h-1zM1257 589h1V606h-1zM1270 607h1V611h-1zM1273 599h1V605h-1zM1275 589h1V597h-1zM1281 599h1V600h-1zM1292 612h1V614h-1zM1294 604h1V610h-1z"/><path fill="#f0127c" d="M14 227h1V232h-1zM36 160h1V181h-1zM41 185h1V187h-1zM47 188h1V194h-1zM60 174h1V176h-1zM63 178h1V179h-1zM73 155h1V161h-1zM76 163h1V167h-1zM84 156h1V176h-1zM90 179h1V197h-1zM95 197h1V217h-1zM103 207h1V214h-1zM111 211h1V224h-1zM114 226h1V231h-1zM119 233h1V235h-1zM122 237h1V240h-1zM125 242h1V255h-1zM144 198h1V216h-1zM146 218h1V225h-1zM165 172h1V204h-1zM168 206h1V215h-1zM176 212h1V213h-1zM179 215h1V227h-1zM187 227h1V232h-1zM189 234h1V240h-1zM192 242h1V248h-1zM195 250h1V266h-1zM200 257h1V262h-1zM206 264h1V269h-1zM219 198h1V230h-1zM227 229h1V250h-1zM230 252h1V258h-1zM235 262h1V264h-1zM238 266h1V268h-1zM243 254h1V258h-1zM246 260h1V328h-1zM257 324h1V336h-1zM259 338h1V363h-1zM278 339h1V392h-1zM286 378h1V381h-1zM300 371h1V373h-1zM303 375h1V382h-1zM305 384h1V390h-1zM308 392h1V415h-1zM319 338h1V342h-1zM324 342h1V360h-1zM327 362h1V378h-1zM330 380h1V407h-1zM340 373h1V383h-1zM343 385h1V431h-1zM351 426h1V438h-1zM356 432h1V461h-1zM392 338h1V343h-1zM394 345h1V397h-1zM405 389h1V404h-1zM408 406h1V521h-1zM416 484h1V499h-1zM418 501h1V558h-1zM435 479h1V491h-1zM437 493h1V512h-1zM445 507h1V525h-1zM464 442h1V443h-1zM467 445h1V449h-1zM470 451h1V464h-1zM478 411h1V422h-1zM489 411h1V421h-1zM513 305h1V308h-1zM521 292h1V313h-1zM524 315h1V337h-1zM532 323h1V328h-1zM534 330h1V338h-1zM537 340h1V346h-1zM540 348h1V382h-1zM564 394h1V396h-1zM567 398h1V427h-1zM569 429h1V433h-1zM577 437h1V438h-1zM580 440h1V446h-1zM586 447h1V460h-1zM588 462h1V501h-1zM594 499h1V513h-1zM596 515h1V519h-1zM604 483h1V512h-1zM612 518h1V521h-1zM621 501h1V570h-1zM629 555h1V561h-1zM661 442h1V445h-1zM672 371h1V380h-1zM680 383h1V398h-1zM683 400h1V402h-1zM685 404h1V438h-1zM693 431h1V433h-1zM696 435h1V466h-1zM704 466h1V476h-1zM720 399h1V432h-1zM731 417h1V428h-1zM734 430h1V495h-1zM736 497h1V499h-1zM739 501h1V514h-1zM742 516h1V518h-1zM755 488h1V490h-1zM763 486h1V593h-1zM766 595h1V613h-1zM771 611h1V621h-1zM777 620h1V621h-1zM782 621h1V639h-1zM785 641h1V645h-1zM798 630h1V657h-1zM815 618h1V619h-1zM817 621h1V684h-1zM825 671h1V675h-1zM833 664h1V666h-1zM842 662h1V669h-1zM844 671h1V693h-1zM847 695h1V764h-1zM860 708h1V731h-1zM866 702h1V708h-1zM877 668h1V690h-1zM895 619h1V661h-1zM901 646h1V656h-1zM922 602h1V663h-1zM933 616h1V621h-1zM936 623h1V629h-1zM939 631h1V663h-1zM944 629h1V635h-1zM949 636h1V640h-1zM968 585h1V590h-1zM974 589h1V592h-1zM976 594h1V604h-1zM990 569h1V581h-1zM995 567h1V607h-1zM1009 548h1V558h-1zM1011 560h1V575h-1zM1017 573h1V574h-1zM1019 576h1V581h-1zM1025 584h1V594h-1zM1028 596h1V631h-1zM1036 625h1V680h-1zM1041 666h1V705h-1zM1049 705h1V706h-1zM1057 698h1V704h-1zM1065 666h1V678h-1zM1071 651h1V680h-1zM1073 682h1V687h-1zM1087 680h1V717h-1zM1108 549h1V608h-1zM1133 492h1V499h-1zM1138 480h1V485h-1zM1143 441h1V483h-1zM1146 485h1V486h-1zM1154 421h1V436h-1zM1162 380h1V403h-1zM1165 405h1V427h-1zM1168 429h1V433h-1zM1170 435h1V474h-1zM1173 476h1V485h-1zM1176 487h1V491h-1zM1178 493h1V496h-1zM1187 481h1V550h-1zM1208 425h1V432h-1zM1213 435h1V437h-1zM1216 439h1V446h-1zM1219 448h1V450h-1zM1232 468h1V502h-1zM1238 471h1V481h-1zM1240 483h1V555h-1zM1243 557h1V567h-1zM1246 569h1V589h-1zM1249 591h1V622h-1zM1265 589h1V597h-1zM1267 599h1V611h-1zM1278 589h1V600h-1zM1286 599h1V609h-1zM1289 611h1V614h-1zM1297 604h1V616h-1zM1300 618h1V649h-1zM1305 650h1V659h-1zM1308 661h1V663h-1z"/></g>
<!-- callout -->
<path d="M961.5 437.5H1090.5a6 6 0 0 1 6 6V496.5L1164 558.5L1087.5 506H961.5a6 6 0 0 1-6-6V443.5a6 6 0 0 1 6-6z" fill="#3994f0"/>
<g fill="#fff" font-size="23" stroke="#fff" stroke-width="0.4">
<text x="965.5" y="465.5" textLength="120" lengthAdjust="spacingAndGlyphs">bullish SMA</text>
<text x="965.5" y="489.5" textLength="100" lengthAdjust="spacingAndGlyphs">crossover</text>
</g>
<!-- pivots -->
<g shape-rendering="crispEdges">
<rect x="1307" y="380" width="82" height="1" fill="#ff9800"/>
<rect x="1307" y="520" width="82" height="1" fill="#ff9800"/>
<rect x="1307" y="599" width="82" height="1" fill="#111"/>
<rect x="1307" y="739" width="82" height="1" fill="#ff9800"/>
<rect x="1307" y="819" width="82" height="1" fill="#ff9800"/>
</g>
<g font-size="11.5" fill="#ff9800">
<text x="1405.5" y="384.3">R2 (77.23)</text>
<text x="1405.5" y="523.3">R1 (73.01)</text>
<text x="1409.5" y="603.3" fill="#333">P (70.60)</text>
<text x="1405.5" y="743.3">S1 (66.37)</text>
<text x="1405.5" y="822.3">S2 (63.96)</text>
</g>
<!-- title -->
<text x="26.5" y="55" font-size="30" fill="#111" textLength="376" lengthAdjust="spacingAndGlyphs">WTI Crude Oil (USOIL): 4-hour</text>
</g>
<!-- axis labels -->
<g font-size="13.5" fill="#131722"><text x="1886.5" y="954.7">60.00</text><text x="1886.5" y="888.5">62.00</text><text x="1886.5" y="822.4">64.00</text><text x="1886.5" y="756.2">66.00</text><text x="1886.5" y="690.1">68.00</text><text x="1886.5" y="623.9">70.00</text><text x="1886.5" y="557.8">72.00</text><text x="1886.5" y="491.7">74.00</text><text x="1886.5" y="425.5">76.00</text><text x="1886.5" y="359.4">78.00</text><text x="1886.5" y="293.2">80.00</text><text x="1886.5" y="227.1">82.00</text><text x="1886.5" y="160.9">84.00</text><text x="1886.5" y="94.8">86.00</text><text x="1886.5" y="28.6">88.00</text></g>
<g font-size="13.5" fill="#131722" clip-path="url(#taxis)"><text x="8.3" y="1028.6" text-anchor="start" font-weight="bold">ul</text><text x="172.5" y="1028.6" text-anchor="middle">15</text><text x="270" y="1028.6" text-anchor="middle">23</text><text x="384" y="1028.6" text-anchor="middle" font-weight="bold">Aug</text><text x="498" y="1028.6" text-anchor="middle">12</text><text x="595" y="1028.6" text-anchor="middle">20</text><text x="738.5" y="1028.6" text-anchor="middle" font-weight="bold">Sep</text><text x="904" y="1028.6" text-anchor="middle">16</text><text x="1082.5" y="1028.6" text-anchor="middle" font-weight="bold">Oct</text><text x="1229" y="1028.6" text-anchor="middle">14</text><text x="1326" y="1028.6" text-anchor="middle">22</text><text x="1456.5" y="1028.6" text-anchor="middle" font-weight="bold">Nov</text><text x="1553" y="1028.6" text-anchor="middle">11</text><text x="1651" y="1028.6" text-anchor="middle">19</text><text x="1795" y="1028.6" text-anchor="middle" font-weight="bold">Dec</text></g>
<!-- price label -->
<rect x="1830" y="654" width="96" height="21" rx="2.5" fill="#fd0679"/>
<rect x="1876" y="654" width="1" height="21" fill="#fb6cae"/>
<g font-size="13.5" fill="#fff" stroke="#fff" stroke-width="0.3">
<text x="1835" y="669.5" textLength="36" lengthAdjust="spacingAndGlyphs">USOIL</text>
<text x="1886.5" y="669.5">68.64</text>
</g>
<!-- TradingView logo -->
<g fill="#131722">
<path d="M10 1053h8.2v10h-4.2v-5.4h-4z"/>
<circle cx="21.2" cy="1055.3" r="2.3"/>
<path d="M25.6 1053h4.6l-4.3 10h-4.6z"/>
<text x="33" y="1063" font-size="13.2" textLength="70" lengthAdjust="spacingAndGlyphs" fill="#1e222d">TradingView</text>
</g>
</svg>
</body></html>
